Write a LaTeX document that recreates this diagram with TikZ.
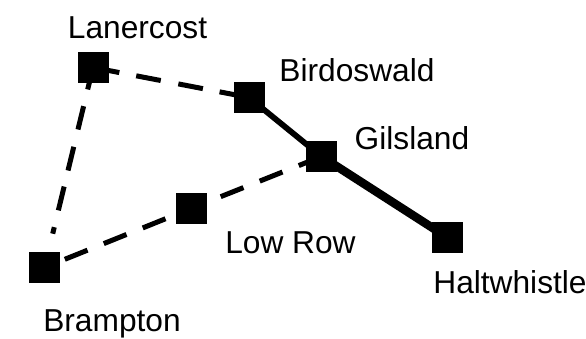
\documentclass[tikz,border=0pt]{standalone}
\usepackage{fontspec}
\setmainfont{Liberation Sans}
\begin{document}
\begin{tikzpicture}[x=1pt,y=-1pt,
    station/.style={rectangle,fill=black,minimum size=31pt,inner sep=0pt},
    place/.style={font=\fontsize{31.7}{36}\selectfont,inner sep=0pt,anchor=base},
    open/.style={line width=5pt,dash pattern=on 24.5pt off 17.5pt},
    shut/.style={line width=5.8pt},
    main/.style={line width=8.5pt}]
    \useasboundingbox (0,0) rectangle (586,339);
    \node[station] (L) at (93,67.5) {};
    \node[station] (B) at (249,97.5) {};
    \node[station] (G) at (321.5,156.5) {};
    \node[station] (H) at (447.5,237.5) {};
    \node[station] (R) at (191.5,208.3) {};
    \node[station] (W) at (44.5,267.5) {};
    \node[place] (Ll) at (137.5,38.3) {Lanercost};
    \node[place] (Bl) at (357,81.5) {Birdoswald};
    \node[place] (Gl) at (412,150) {Gilsland};
    \node[place] (Rl) at (290.5,253) {Low Row};
    \node[place] (Hl) at (510,293.5) {Haltwhistle};
    \node[place] (Wl) at (112,331.5) {Brampton};
    \draw[open,dash pattern=on 26.8pt off 17.2pt on 25pt off 17.9pt on 25pt off 17pt] (L.center) -- (B.center);
    \draw[open,dash pattern=on 22.6pt off 17.2pt on 24pt off 17.8pt on 24.4pt off 16.5pt on 24.5pt off 17.3pt on 6.7pt off 60pt] (L.center) -- (W.center);
    \draw[open] (G.center) -- (R.center) -- (W.center);
    \draw[shut] (B.center) -- (G.center);
    \draw[main] (G.center) -- (H.center);
\end{tikzpicture}
\end{document}
